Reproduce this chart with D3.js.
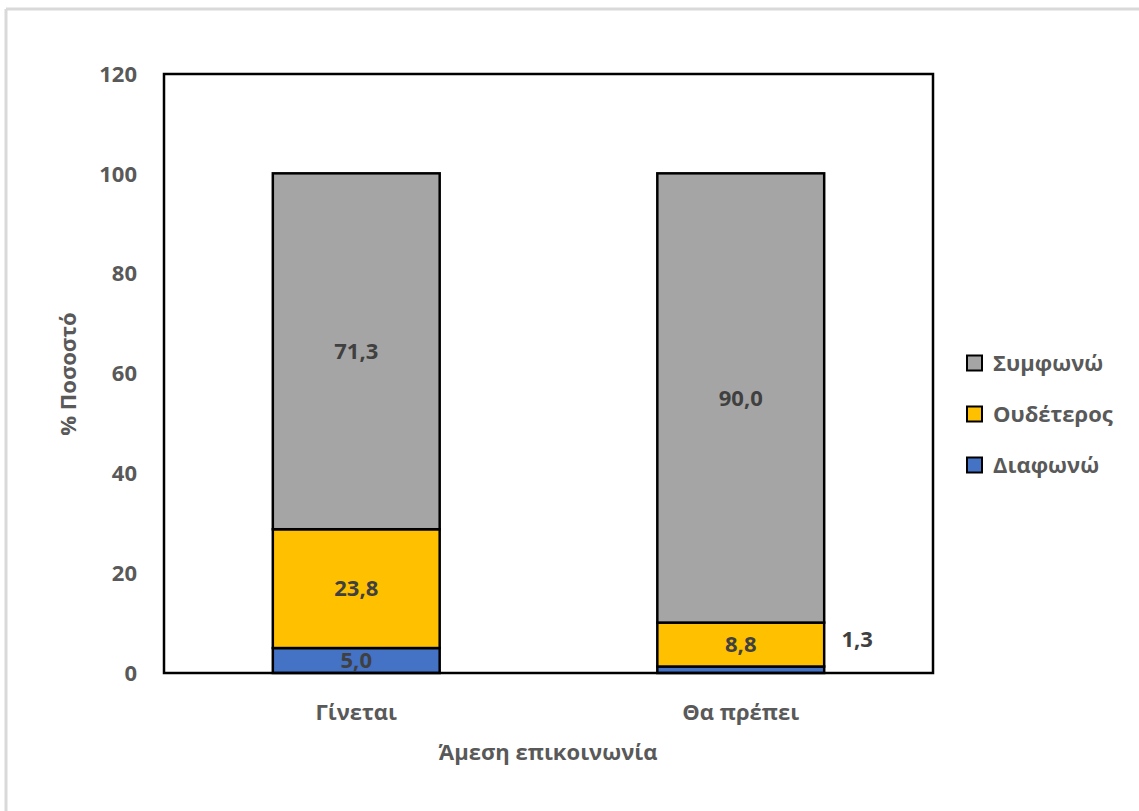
<!DOCTYPE html>
<html>
<head>
<meta charset="utf-8">
<script src="https://cdn.jsdelivr.net/npm/d3@7"></script>
<style>
  html, body { margin: 0; padding: 0; background: #fff; }
  svg { display: block; }
  text { font-family: "Open Sans", "Noto Sans", sans-serif; font-weight: bold; fill: #595959; }
</style>
</head>
<body>
<svg id="chart" width="1139" height="811"></svg>
<script>
// Categories and stacked series (percentages)
const categories = ["Γίνεται", "Θα πρέπει"];
const seriesNames = ["Διαφωνώ", "Ουδέτερος", "Συμφωνώ"];
const disagree = [5.0, 1.3];
const neutral = [23.8, 8.8];
const agree = [71.3, 90.0];
const yTicks = [0, 20, 40, 60, 80, 100, 120];
const legendOrder = ["Συμφωνώ", "Ουδέτερος", "Διαφωνώ"];
const xTitle = "Άμεση επικοινωνία";
const yTitle = "% Ποσοστό";

const colors = { "Διαφωνώ": "#4472c4", "Ουδέτερος": "#ffc000", "Συμφωνώ": "#a5a5a5" };
const FS = 22;

const svg = d3.select("#chart");

// outer frame (top and left edges visible)
svg.append("line").attr("x1", 6).attr("x2", 1139).attr("y1", 9).attr("y2", 9)
  .attr("stroke", "#d9d9d9").attr("stroke-width", 3);
svg.append("line").attr("x1", 6).attr("x2", 6).attr("y1", 9).attr("y2", 811)
  .attr("stroke", "#d9d9d9").attr("stroke-width", 3);

const plot = { left: 164, right: 933, top: 74, bottom: 673 };

const x = d3.scaleBand().domain(categories)
  .range([plot.left, plot.right]).paddingInner(0.566).paddingOuter(0.283);
const y = d3.scaleLinear().domain([0, 120]).range([plot.bottom, plot.top]);

const table = categories.map((c, i) => ({
  cat: c, "Διαφωνώ": disagree[i], "Ουδέτερος": neutral[i], "Συμφωνώ": agree[i]
}));
const stacked = d3.stack().keys(seriesNames)(table);

// y tick labels
svg.append("g").selectAll("text").data(yTicks).join("text")
  .attr("x", 137).attr("y", d => y(d)).attr("dy", "0.35em")
  .attr("text-anchor", "end").attr("font-size", FS).text(d => d);

// bars
const g = svg.append("g");
stacked.forEach(layer => {
  g.selectAll(null).data(layer).join("rect")
    .attr("x", d => x(d.data.cat))
    .attr("width", x.bandwidth())
    .attr("y", d => y(d[1]))
    .attr("height", d => y(d[0]) - y(d[1]))
    .attr("fill", colors[layer.key])
    .attr("stroke", "#000").attr("stroke-width", 2.5);
});

// data labels
stacked.forEach(layer => {
  layer.forEach(d => {
    const v = d[1] - d[0];
    const small = v < 2;
    const lx = small ? x(d.data.cat) + x.bandwidth() + 33 : x(d.data.cat) + x.bandwidth() / 2;
    const ly = small ? y(d[1] + 5.5) : y((d[0] + d[1]) / 2);
    svg.append("text")
      .attr("x", lx).attr("y", ly).attr("dy", "0.35em")
      .attr("text-anchor", "middle").attr("font-size", FS)
      .style("fill", "#404040")
      .text(d3.format(".1f")(v).replace(".", ","));
  });
});

// plot frame
svg.append("rect")
  .attr("x", plot.left).attr("y", plot.top)
  .attr("width", plot.right - plot.left).attr("height", plot.bottom - plot.top)
  .attr("fill", "none").attr("stroke", "#000").attr("stroke-width", 2.5);

// x category labels
svg.append("g").selectAll("text").data(categories).join("text")
  .attr("x", d => x(d) + x.bandwidth() / 2).attr("y", 712).attr("dy", "0.35em")
  .attr("text-anchor", "middle").attr("font-size", FS).text(d => d);

// axis titles
svg.append("text").attr("x", 548).attr("y", 752).attr("dy", "0.35em")
  .attr("text-anchor", "middle").attr("font-size", FS).text(xTitle);
svg.append("text").attr("transform", "translate(68,374) rotate(-90)")
  .attr("dy", "0.35em").attr("text-anchor", "middle").attr("font-size", FS).text(yTitle);

// legend
const leg = svg.append("g").selectAll("g").data(legendOrder).join("g")
  .attr("transform", (d, i) => `translate(967,${363 + i * 51})`);
leg.append("rect").attr("x", 0).attr("y", -7.5).attr("width", 15).attr("height", 15)
  .attr("fill", d => colors[d]).attr("stroke", "#000").attr("stroke-width", 2);
leg.append("text").attr("x", 26).attr("y", 0).attr("dy", "0.35em")
  .attr("font-size", FS).text(d => d);
</script>
</body>
</html>
